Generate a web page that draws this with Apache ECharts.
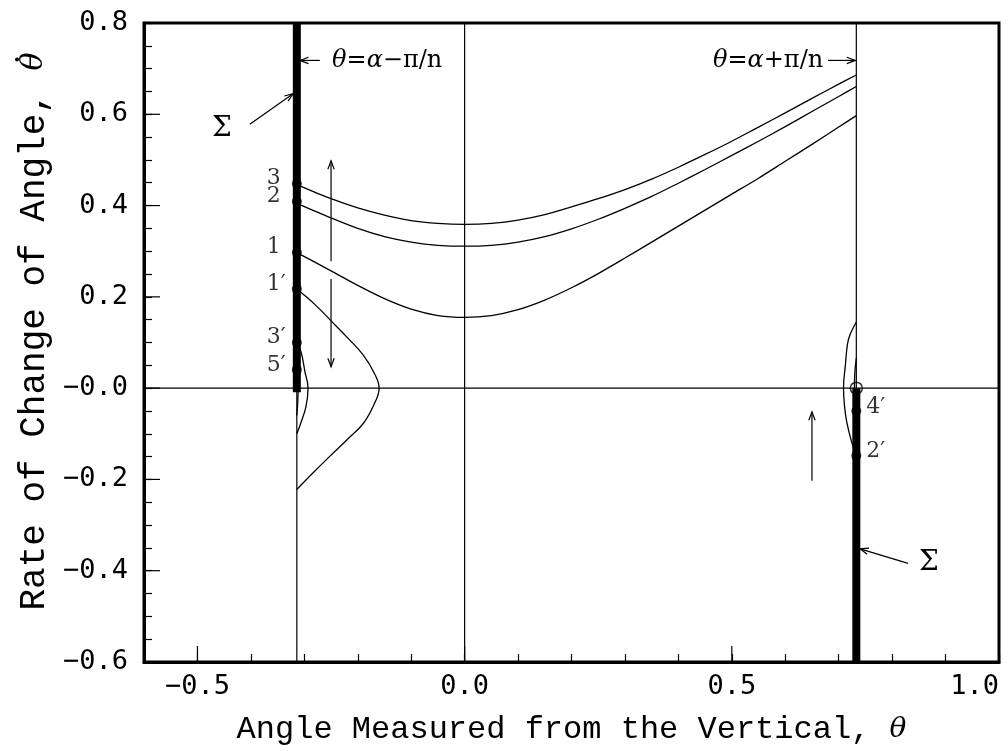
<!DOCTYPE html>
<html>
<head>
<meta charset="utf-8">
<script src="https://cdn.jsdelivr.net/npm/echarts/dist/echarts.min.js"></script>
<style>
  html, body { margin: 0; padding: 0; background: #fff; }
  #chart { width: 1008px; height: 751px; }
</style>
</head>
<body>
<div id="chart"></div>
<script>
// ---- axis ticks ----
const xTickValues = [-0.5, 0.0, 0.5, 1.0];
const xTickLabels = ['−0.5', '0.0', '0.5', '1.0'];
const yTickValues = [-0.6, -0.4, -0.2, 0.0, 0.2, 0.4, 0.6, 0.8];
const yTickLabels = ['−0.6', '−0.4', '−0.2', '−0.0', '0.2', '0.4', '0.6', '0.8'];

// ---- switching surfaces  θ = α − π/n  and  θ = α + π/n ----
const thetaLow = -0.314;
const thetaHigh = 0.733;

// ---- phase trajectories [θ, dθ/dt] ----
const thetaGrid = [-0.314, -0.25, -0.2, -0.15, -0.1, -0.05, 0.0, 0.05, 0.1, 0.15, 0.2, 0.25,
  0.3, 0.35, 0.4, 0.45, 0.5, 0.55, 0.6, 0.65, 0.7, 0.733];
const rate3 = [0.446, 0.415, 0.395, 0.379, 0.367, 0.361, 0.359, 0.361, 0.368, 0.380, 0.397, 0.415,
  0.435, 0.458, 0.484, 0.512, 0.541, 0.572, 0.603, 0.635, 0.666, 0.686];
const rate2 = [0.405, 0.373, 0.350, 0.332, 0.320, 0.313, 0.311, 0.313, 0.320, 0.332, 0.349, 0.370,
  0.394, 0.420, 0.449, 0.479, 0.510, 0.541, 0.573, 0.606, 0.639, 0.661];
const rate1 = [0.297, 0.257, 0.225, 0.196, 0.173, 0.159, 0.155, 0.159, 0.172, 0.193, 0.220, 0.251,
  0.285, 0.320, 0.355, 0.390, 0.425, 0.460, 0.497, 0.534, 0.572, 0.597];
const traj1p = [[-0.314, 0.217], [-0.280, 0.183], [-0.247, 0.144], [-0.218, 0.109], [-0.190, 0.073],
  [-0.170, 0.035], [-0.160, 0.0], [-0.170, -0.037], [-0.190, -0.078], [-0.220, -0.113],
  [-0.252, -0.149], [-0.284, -0.186], [-0.314, -0.222]];
const traj3p = [[-0.314, 0.100], [-0.306, 0.079], [-0.299, 0.037], [-0.293, 0.0], [-0.297, -0.041],
  [-0.307, -0.078], [-0.314, -0.100]];
const traj5p = [[-0.314, 0.040], [-0.3115, 0.0], [-0.314, -0.060]];
const traj2p = [[0.733, 0.145], [0.7215, 0.118], [0.7165, 0.097], [0.7125, 0.050], [0.709, 0.0],
  [0.711, -0.040], [0.7146, -0.071], [0.7235, -0.115], [0.733, -0.148]];
const traj4p = [[0.733, 0.066], [0.730, 0.030], [0.7295, 0.0], [0.733, -0.050]];

// ---- marked states on the surfaces ----
const lowStates = [[thetaLow, 0.448], [thetaLow, 0.409], [thetaLow, 0.297], [thetaLow, 0.217], [thetaLow, 0.100], [thetaLow, 0.040]];
const lowStateNames = ['3', '2', '1', '1′', '3′', '5′'];
const highStates = [[thetaHigh, -0.050], [thetaHigh, -0.148]];
const highStateNames = ['4′', '2′'];
const equilibrium = [[thetaHigh, 0.0]];

// ---- sliding segments Σ ----
const sigmaLow = [[thetaLow, 0.8], [thetaLow, -0.009]];
const sigmaHigh = [[thetaHigh, 0.0], [thetaHigh, -0.6]];

// ---- arrows [θ1, v1, θ2, v2] (tail -> head) ----
const arrows = [
  [-0.402, 0.578, -0.321, 0.645],
  [0.830, -0.384, 0.740, -0.352],
  [-0.271, 0.718, -0.308, 0.718],
  [0.680, 0.718, 0.731, 0.718],
  [-0.250, 0.278, -0.250, 0.498],
  [-0.250, 0.239, -0.250, 0.047],
  [0.650, -0.203, 0.650, -0.052]
];

// ---- text notes ----
const noteAnchors = [[-0.248, 0.718], [0.671, 0.718], [-0.454, 0.569], [0.869, -0.382]];
const noteTexts = ['{i|θ}={i|α}−π/n', '{i|θ}={i|α}+π/n', 'Σ', 'Σ'];
const noteAlign = ['left', 'right', 'center', 'center'];
const noteSizes = [24, 24, 28, 28];

const serif = '"DejaVu Serif", "Liberation Serif", serif';
const mono = '"Liberation Mono", "DejaVu Sans Mono", monospace';
const tickFont = '"DejaVu Sans Mono", monospace';

// vertical axis title pieces
const yTitleMain = 'Rate of Change of Angle, ';
const yTitleVar = 'θ';
const yTitleSize = 36, yTitleVarSize = 30, yTitlePad = 22, yTitleGap = 86;

function labelFor(values, labels) {
  return function (v) {
    for (let i = 0; i < values.length; i++) {
      if (Math.abs(values[i] - v) < 1e-6) return labels[i];
    }
    return '';
  };
}

function pair(xs, ys) {
  return xs.map((x, i) => [x, ys[i]]);
}

function thinLine(data, width, z, smooth) {
  return {
    type: 'line', data: data, smooth: smooth === undefined ? 0.4 : smooth,
    symbol: 'none', silent: true, z: z || 3,
    lineStyle: { color: '#000', width: width || 1.3 }, animation: false
  };
}

const chart = echarts.init(document.getElementById('chart'), null, { renderer: 'canvas' });

chart.setOption({
  backgroundColor: '#fff',
  animation: false,
  grid: { left: 144, right: 9, top: 23, bottom: 79, show: true, borderColor: '#000', borderWidth: 3, containLabel: false },
  xAxis: {
    type: 'value', min: -0.6, max: 1.0, interval: 0.1,
    axisLine: { show: true, onZero: false, lineStyle: { color: '#000', width: 3 } },
    axisTick: { show: true, inside: true, length: 8, lineStyle: { color: '#000', width: 1.2 } },
    splitLine: { show: false },
    axisLabel: {
      formatter: labelFor(xTickValues, xTickLabels), margin: 11, color: '#000',
      fontFamily: tickFont, fontSize: 27, alignMaxLabel: 'right'
    },
    name: 'Angle Measured from the Vertical, {i|θ}',
    nameLocation: 'middle', nameGap: 52,
    nameTextStyle: {
      fontFamily: mono, fontSize: 32, color: '#000',
      rich: { i: { fontFamily: serif, fontStyle: 'italic', fontSize: 28, color: '#000' } }
    }
  },
  yAxis: {
    type: 'value', min: -0.6, max: 0.8, interval: 0.05,
    axisLine: { show: true, onZero: false, lineStyle: { color: '#000', width: 3 } },
    axisTick: { show: true, inside: true, length: 8, lineStyle: { color: '#000', width: 1.2 } },
    splitLine: { show: false },
    axisLabel: {
      formatter: labelFor(yTickValues, yTickLabels), margin: 16, color: '#000',
      fontFamily: tickFont, fontSize: 27
    },
    name: yTitleMain + '{i|' + yTitleVar + '}',
    nameLocation: 'middle', nameRotate: 90, nameGap: yTitleGap,
    nameTextStyle: {
      fontFamily: mono, fontSize: yTitleSize, color: '#000', padding: [0, 0, 0, yTitlePad],
      rich: { i: { fontFamily: serif, fontStyle: 'italic', fontSize: yTitleVarSize, color: '#000' } }
    }
  },
  series: [
    // reference lines: θ = 0, dθ/dt = 0 and both surfaces
    thinLine([[0, -0.6], [0, 0.8]], 1.2, 2, false),
    thinLine([[-0.6, 0], [1.0, 0]], 1.2, 2, false),
    thinLine([[thetaLow, -0.6], [thetaLow, 0.8]], 1.2, 2, false),
    thinLine([[thetaHigh, -0.6], [thetaHigh, 0.8]], 1.2, 2, false),
    // trajectories
    thinLine(pair(thetaGrid, rate3), 1.3, 3, 0.3),
    thinLine(pair(thetaGrid, rate2), 1.3, 3, 0.3),
    thinLine(pair(thetaGrid, rate1), 1.3, 3, 0.3),
    thinLine(traj1p), thinLine(traj3p), thinLine(traj5p), thinLine(traj2p), thinLine(traj4p),
    // sliding segments
    { type: 'line', data: sigmaLow, symbol: 'none', silent: true, z: 5, lineStyle: { color: '#000', width: 8, cap: 'butt' } },
    { type: 'line', data: sigmaHigh, symbol: 'none', silent: true, z: 5, lineStyle: { color: '#000', width: 8, cap: 'butt' } },
    // major ticks on x
    {
      type: 'custom', silent: true, z: 4, data: xTickValues.map(v => [v, -0.6]),
      renderItem: function (params, api) {
        const p = api.coord([api.value(0), api.value(1)]);
        return { type: 'line', shape: { x1: p[0], y1: p[1], x2: p[0], y2: p[1] - 16 }, style: { stroke: '#000', lineWidth: 1.2 } };
      }
    },
    // major ticks on y
    {
      type: 'custom', silent: true, z: 4, data: yTickValues.map(v => [-0.6, v]),
      renderItem: function (params, api) {
        const p = api.coord([api.value(0), api.value(1)]);
        return { type: 'line', shape: { x1: p[0], y1: p[1], x2: p[0] + 16, y2: p[1] }, style: { stroke: '#000', lineWidth: 1.2 } };
      }
    },
    // arrows
    {
      type: 'custom', silent: true, z: 6, data: arrows, encode: { x: [0, 2], y: [1, 3] },
      renderItem: function (params, api) {
        const p1 = api.coord([api.value(0), api.value(1)]);
        const p2 = api.coord([api.value(2), api.value(3)]);
        const ang = Math.atan2(p2[1] - p1[1], p2[0] - p1[0]);
        const h = 9, spread = 0.36;
        const a1 = [p2[0] - h * Math.cos(ang - spread), p2[1] - h * Math.sin(ang - spread)];
        const a2 = [p2[0] - h * Math.cos(ang + spread), p2[1] - h * Math.sin(ang + spread)];
        return {
          type: 'group', children: [
            { type: 'line', shape: { x1: p1[0], y1: p1[1], x2: p2[0], y2: p2[1] }, style: { stroke: '#000', lineWidth: 1.2 } },
            { type: 'polyline', shape: { points: [a1, p2, a2] }, style: { stroke: '#000', lineWidth: 1.2, fill: null } }
          ]
        };
      }
    },
    // notes
    {
      type: 'custom', silent: true, z: 6, data: noteAnchors,
      renderItem: function (params, api) {
        const i = params.dataIndex;
        const p = api.coord([api.value(0), api.value(1)]);
        const fs = noteSizes[i];
        return {
          type: 'text', x: p[0], y: p[1],
          style: {
            text: noteTexts[i], fill: '#000', align: noteAlign[i], verticalAlign: 'middle',
            font: fs + 'px ' + serif,
            rich: { i: { fontStyle: 'italic', fontSize: fs, fontFamily: serif, color: '#000' } }
          }
        };
      }
    },
    // states on the lower surface
    {
      type: 'scatter', z: 7, silent: true, symbol: 'circle', symbolSize: 10,
      itemStyle: { color: '#000' },
      data: lowStates.map((v, i) => ({ value: v, name: lowStateNames[i] })),
      label: {
        show: true, formatter: '{b}', position: 'inside', align: 'left', verticalAlign: 'middle',
        offset: [-30, -5], color: '#000', fontFamily: serif, fontSize: 22
      }
    },
    // states on the upper surface
    {
      type: 'scatter', z: 7, silent: true, symbol: 'circle', symbolSize: 10,
      itemStyle: { color: '#000' },
      data: highStates.map((v, i) => ({ value: v, name: highStateNames[i] })),
      label: {
        show: true, formatter: '{b}', position: 'inside', align: 'left', verticalAlign: 'middle',
        offset: [10, -4], color: '#000', fontFamily: serif, fontSize: 22
      }
    },
    // equilibrium
    {
      type: 'scatter', z: 8, silent: true, symbol: 'circle', symbolSize: 12, data: equilibrium,
      itemStyle: { color: 'transparent', borderColor: '#000', borderWidth: 1.5 }
    }
  ]
});

// dot accent over the θ of the vertical axis title (time derivative):
// the title is centred on the axis, so locate the θ from the measured text widths
(function () {
  const rect = chart.getModel().getComponent('yAxis').axis.grid.getRect();
  const ctx = document.createElement('canvas').getContext('2d');
  ctx.font = yTitleSize + 'px ' + mono;
  const wMain = ctx.measureText(yTitleMain).width;
  ctx.font = 'italic ' + yTitleVarSize + 'px ' + serif;
  const wVar = ctx.measureText(yTitleVar).width;
  const total = wMain + wVar + yTitlePad;
  const midY = rect.y + rect.height / 2;
  let varCenterY = midY - total / 2 + wVar / 2;
  if (!isFinite(varCenterY)) varCenterY = 57;
  chart.setOption({
    graphic: [{
      type: 'circle', silent: true, z: 100,
      shape: { cx: 17, cy: varCenterY - 2, r: 2 },
      style: { fill: '#000' }
    }]
  });
})();
</script>
</body>
</html>
